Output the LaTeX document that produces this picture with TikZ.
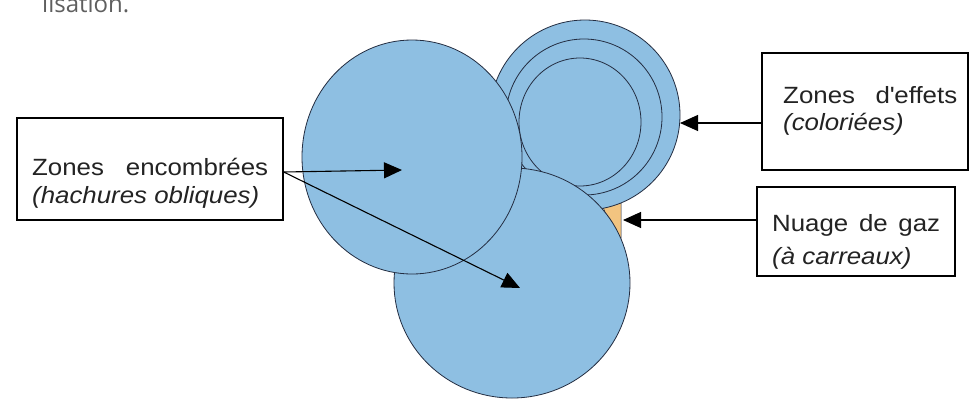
\documentclass[tikz,border=0pt]{standalone}
\usepackage{fontspec}
\setmainfont[FakeStretch=1.1]{Liberation Sans}
\newfontfamily\pagefont{Open Sans}
\usetikzlibrary{arrows.meta,calc}
\definecolor{zoneB}{RGB}{142,191,226}
\definecolor{edgeD}{RGB}{35,45,65}
\definecolor{gazO}{RGB}{242,196,128}
\definecolor{txtG}{RGB}{35,35,35}
\definecolor{pageG}{RGB}{95,95,95}

\begin{document}
\begin{tikzpicture}[x=1pt, y=-1pt, >={Triangle[length=18pt,width=16pt]},
  zone/.style={fill=zoneB, draw=edgeD, line width=0.8pt},
  box/.style={rectangle, draw=black, fill=white, line width=1.4pt, inner sep=0pt},
  lbl/.style={anchor=north west, align=left, inner sep=0pt, text=txtG},
  ptr/.style={->, line width=1.1pt}]
  \useasboundingbox[fill=white] (0,0) rectangle (971,400);

  % end of the page text above the figure
  \node[anchor=base west, inner sep=0pt, text=pageG,
        font=\pagefont\fontsize{24}{24}\selectfont] (prev) at (42,12) {lisation.};

  % gas cloud, then the zones
  \fill[gazO, draw=edgeD, line width=0.5pt] (603,207) -- (621,203) -- (621,238) -- (613,232) -- cycle;
  \path[zone] (585,115) circle[radius=95pt];
  \path[zone] (584,117) circle[radius=78pt];
  \path[zone] (580,122) ellipse[x radius=61pt, y radius=64pt];
  \path[zone] (512,283) ellipse[x radius=118pt, y radius=115pt];
  \path[zone] (412,157) ellipse[x radius=110pt, y radius=117pt];

  % boxes
  \node[box, minimum width=266pt, minimum height=102pt] (encomb) at (150,169) {};
  \node[lbl, font=\fontsize{23.5}{28}\selectfont] (encombT) at (32,155)
      {\rule{0pt}{20pt}\makebox[236pt][s]{Zones encombrées}\\ \textit{(hachures obliques)}};
  \node[box, minimum width=206pt, minimum height=117pt] (effets) at (865,111.5) {};
  \node[lbl, font=\fontsize{23.5}{27}\selectfont] (effetsT) at (783,83)
      {\rule{0pt}{20pt}\makebox[174pt][s]{Zones d\textquotesingle effets}\\ \textit{(coloriées)}};
  \node[box, minimum width=198pt, minimum height=89pt] (nuage) at (856,231.5) {};
  \node[lbl, font=\fontsize{23.5}{33}\selectfont] (nuageT) at (772,211)
      {\rule{0pt}{20pt}\makebox[168pt][s]{Nuage de gaz}\\ \textit{(à carreaux)}};

  % arrow tips
  \coordinate (tipA) at (402,170);
  \coordinate (tipB) at (520,288);
  \coordinate (tipE) at (680,123);
  \coordinate (tipN) at (623,220);

  \draw[ptr] ([yshift=-3pt]encomb.east) -- (tipA);
  \draw[ptr] ([yshift=-3pt]encomb.east) -- (tipB);
  \draw[ptr] ([yshift=-11.5pt]effets.west) -- (tipE);
  \draw[ptr] ([yshift=11.5pt]nuage.west) -- (tipN);
\end{tikzpicture}
\end{document}
